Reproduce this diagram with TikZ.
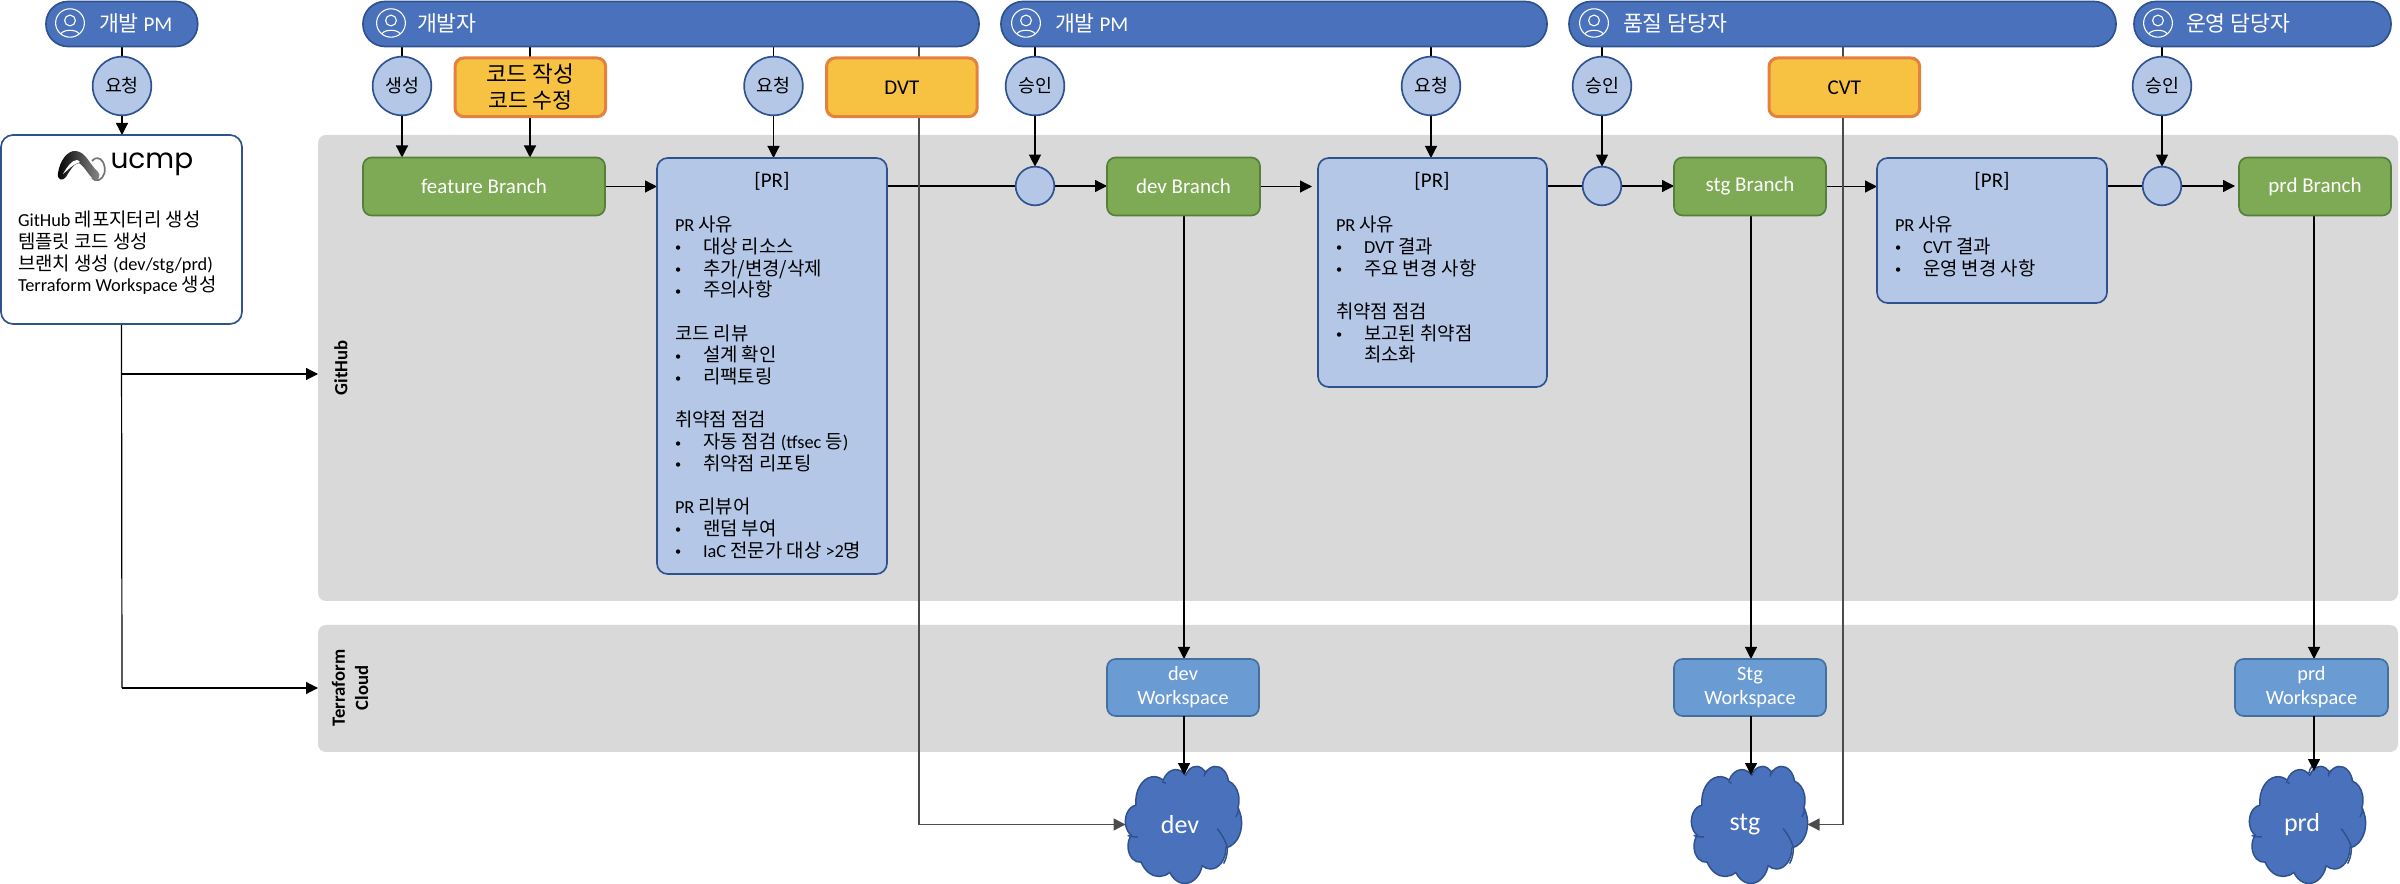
\documentclass[tikz,border=0pt]{standalone}
\usepackage{fontspec}
\setmainfont{Carlito}
\newfontfamily\krfont[Scale=1.03]{Noto Sans CJK KR}
\newfontfamily\logofont{Poppins}
\usetikzlibrary{arrows.meta,positioning,calc}
\newcommand\kr[1]{{\krfont #1}}
\newcommand\fs[2]{\fontsize{#1}{#2}\selectfont\lineskiplimit=-20pt\relax}
\newcommand\bl{\makebox[8.4pt][l]{\raisebox{.45pt}{\fontsize{3.7}{4}\selectfont\textbullet}}}
\definecolor{pillf}{HTML}{4A71BB}
\definecolor{pilld}{HTML}{2F528F}
\definecolor{lblue}{HTML}{B4C7E7}
\definecolor{grn}{HTML}{7EAA55}
\definecolor{grnd}{HTML}{557F3A}
\definecolor{orgf}{HTML}{F7C142}
\definecolor{orgd}{HTML}{E5813F}
\definecolor{wsf}{HTML}{6A9BD2}
\definecolor{wsd}{HTML}{44709F}
\definecolor{panel}{HTML}{D9D9D9}
\pgfdeclarelayer{bg}
\pgfdeclarelayer{wires}
\pgfsetlayers{bg,wires,main}
\tikzset{
  x=0.3pt,y=-0.3pt,
  every node/.style={inner sep=0pt,outer sep=0pt},
  pill/.style={draw=pilld,fill=pillf,line width=.5pt,rectangle,rounded corners=6.6pt,text=white,anchor=north west},
  act/.style={draw=pilld,fill=lblue,line width=.5pt,circle,minimum size=17.6pt,font=\fs{5.35}{6.2}},
  gate/.style={draw=pilld,fill=lblue,line width=.5pt,circle,minimum size=11.6pt},
  task/.style={draw=orgd,fill=orgf,line width=.9pt,rectangle,rounded corners=2.6pt,anchor=north west,align=center,font=\fs{6.3}{7.8}},
  branch/.style={draw=grnd,fill=grn,line width=.5pt,rectangle,rounded corners=2.6pt,anchor=north west,text=white,font=\fs{6.3}{7.4}},
  ws/.style={draw=wsd,fill=wsf,line width=.5pt,rectangle,rounded corners=2.6pt,anchor=north west,text=white,align=center,font=\fs{6.1}{7.2}},
  prbox/.style={draw=pilld,fill=lblue,line width=.5pt,rectangle,rounded corners=3.2pt,anchor=north west},
  prtitle/.style={font=\fs{6.3}{7}},
  body/.style={anchor=north west,align=left,font=\fs{5.5}{6.51}},
  panelbox/.style={fill=panel,rectangle,rounded corners=2.4pt,anchor=north west},
  wire/.style={draw=black,line width=.36pt},
  awire/.style={wire,-{Triangle[length=3.6pt,width=3.6pt]}},
  gwire/.style={draw=black!70,line width=.42pt,-{Triangle[length=3.6pt,width=3.6pt]}},
  cloudlabel/.style={text=white,font=\fs{7.8}{9}},
  cloudspot/.style={rectangle,minimum width=34.8pt,minimum height=35.1pt},
  plabel/.style={anchor=west,text=white,font=\fs{6.3}{7}},
  vlabel/.style={rotate=90,font=\bfseries\fs{5.6}{6},align=center},
}
% person icon
\newcommand\person[2]{%
  \begin{scope}[shift={(#1,#2)},white,line width=.33pt]
    \draw (0,0) ellipse [x radius=14.4,y radius=14.2];
    \draw (0,-2.5) circle [radius=5.4];
    \draw (-9,10.6) .. controls (-6,6.2) and (6,6.2) .. (9,10.6);
  \end{scope}}
% office cloud
\newcommand\ca[4]{arc[x radius=#1,y radius=#2,start angle={atan2(#1*sin(#3),#2*cos(#3))},delta angle={mod(atan2(#1*sin(#3+#4),#2*cos(#3+#4))-atan2(#1*sin(#3),#2*cos(#3))+720,360)}]}
\newcommand\officecloud[2]{%
  \begin{scope}[shift={(#1,#2)},x=0.0806pt,y=-0.0813pt,draw=pilld,line width=.45pt]
    \fill[pillf,draw=pilld] (39,143.7)
      \ca{67.53}{91.90}{-190.487}{123.781}
      \ca{53.33}{72.67}{-144.102}{89.945}
      \ca{43.65}{59.45}{-145.808}{99.723}
      \ca{48.57}{65.95}{-130.986}{117.242}
      \ca{53.33}{72.73}{-78.709}{109.027}
      \ca{67.75}{92.20}{-46.267}{130.269}
      \ca{57.85}{78.67}{0.625}{114.033}
      \ca{67.52}{92.15}{22.452}{115.173}
      \ca{77.20}{105.43}{66.243}{75.711}
      \ca{43.60}{59.18}{-274.942}{146.736}
      \ca{43.45}{59.45}{-246.829}{152.519}
      -- cycle;
    \draw (341,231) .. controls (365,260) and (378,290) .. (379,305) .. controls (379,325) and (374,345) .. (365,360);
    \draw (422,157) .. controls (420,170) and (416,180) .. (411,188);
    \draw (46,262) .. controls (32,262) and (18,260) .. (8,256);
    \draw (150,64) .. controls (146,61) and (141,59) .. (137,58);
    \draw (221,27) .. controls (222,18) and (226,9) .. (232,2);
    \draw (293,39) .. controls (294,30) and (297,22) .. (302,15);
  \end{scope}}
\begin{document}
\begin{tikzpicture}
\useasboundingbox (0,0) rectangle (2400,884);
% panels
\begin{pgfonlayer}{bg}
  \fill[white] (0,0) rectangle (2400,884);
  \node[panelbox,minimum width=624pt,minimum height=139.8pt] (ghpanel) at (318,135) {};
  \node[panelbox,minimum width=624pt,minimum height=38.1pt] (tfpanel) at (318,625) {};
\end{pgfonlayer}
\node[vlabel] (ghlabel) at (341,368) {GitHub};
\node[vlabel] (tflabel) at (350,688) {Terraform\\[1pt]Cloud};
% pills
\node[pill,minimum width=45.5pt,minimum height=13.5pt] (p1) at (46,1.5) {};
\node[pill,minimum width=184.8pt,minimum height=13.5pt] (p2) at (363,1.5) {};
\node[pill,minimum width=163.8pt,minimum height=13.5pt] (p3) at (1001,1.5) {};
\node[pill,minimum width=164.1pt,minimum height=13.5pt] (p4) at (1569,1.5) {};
\node[pill,minimum width=77.1pt,minimum height=13.5pt] (p5) at (2134,1.5) {};
\person{70}{23}\person{391}{23}\person{1026}{23}\person{1594}{23}\person{2158}{23}
\node[plabel] (p1t) at (99,23) {\kr{개발} PM};
\node[plabel] (p2t) at (417,23) {\kr{개발자}};
\node[plabel] (p3t) at (1055,23) {\kr{개발} PM};
\node[plabel] (p4t) at (1623,23) {\kr{품질 담당자}};
\node[plabel] (p5t) at (2186,23) {\kr{운영 담당자}};
% action circles
\node[act] (a1) at (122,86) {\kr{요청}};
\node[act] (a2) at (402,86) {\kr{생성}};
\node[act] (a3) at (773.5,86) {\kr{요청}};
\node[act] (a4) at (1035,86) {\kr{승인}};
\node[act] (a5) at (1431,86) {\kr{요청}};
\node[act] (a6) at (1602,86) {\kr{승인}};
\node[act] (a7) at (2162,86) {\kr{승인}};
% tasks
\node[task,minimum width=45.2pt,minimum height=17.6pt] (t1) at (455,58) {\fs{6.6}{7.8}\kr{코드 작성}\\[0pt]\kr{코드 수정}};
\node[task,minimum width=45.2pt,minimum height=17.6pt] (t2) at (826.5,58) {DVT};
\node[task,minimum width=45.2pt,minimum height=17.6pt] (t3) at (1769,58) {CVT};
% ucmp
\node[draw=pilld,fill=white,line width=.5pt,rectangle,rounded corners=3.6pt,minimum width=72.3pt,minimum height=56.7pt,anchor=north west] (ucmp) at (1,135) {};
\draw[black!55,line width=.5pt] (92,161) .. controls (95,157) and (100,157) .. (103,162) .. controls (107,170) and (104,178) .. (99,180) .. controls (96,181) and (94,180) .. (92,178);
\shade[left color=black,middle color=black,right color=black!45] (58,173) .. controls (60,160) and (68,150) .. (76,151) .. controls (86,152) and (90,165) .. (98,172) .. controls (101,175) and (99,181) .. (95,180) .. controls (90,178) and (86,168) .. (79,163) .. controls (74,163) and (69,172) .. (66,177) .. controls (63,181) and (57,181) .. (58,173) -- cycle;
\fill[white] (63,174) .. controls (67,167) and (72,160) .. (77,160) .. controls (78,160) and (79,161) .. (80,162) .. controls (73,164) and (68,170) .. (63,174) -- cycle;
\node[anchor=west,font=\logofont\fontsize{8.4}{9}\selectfont] (logo) at (110.5,164) {ucmp};
\node[body] (ucmpt) at (18,211) {\rule{0pt}{4pt}GitHub \kr{레포지터리 생성}\\\kr{템플릿 코드 생성}\\\kr{브랜치 생성} (dev/stg/prd)\\Terraform Workspace \kr{생성}};
% branches
\node[branch,minimum width=72.6pt,minimum height=17.4pt] (fb) at (363,157.5) {feature Branch};
\node[branch,minimum width=45.9pt,minimum height=17.4pt] (db) at (1107,157.5) {dev Branch};
\node[branch,minimum width=45.6pt,minimum height=17.4pt] (sb) at (1674,157.5) {stg Branch};
\node[branch,minimum width=45.6pt,minimum height=17.4pt] (pb) at (2239,157.5) {prd Branch};
% PR boxes
\node[prbox,minimum width=69pt,minimum height=124.8pt] (pr1) at (657,158) {};
\node[prbox,minimum width=68.7pt,minimum height=68.7pt] (pr2) at (1318,158) {};
\node[prbox,minimum width=69pt,minimum height=43.5pt] (pr3) at (1877,158) {};
\node[prtitle] (pr1h) at (772,181) {[PR]};
\node[prtitle] (pr2h) at (1432,181) {[PR]};
\node[prtitle] (pr3h) at (1992,181) {[PR]};
\node[body] (pr1t) at (675,216) {\rule{0pt}{4pt}PR \kr{사유}\\
\bl\kr{대상 리소스}\\
\bl\kr{추가/변경/삭제}\\
\bl\kr{주의사항}\\[6.51pt]
\kr{코드 리뷰}\\
\bl\kr{설계 확인}\\
\bl\kr{리팩토링}\\[6.51pt]
\kr{취약점 점검}\\
\bl\kr{자동 점검} (tfsec \kr{등})\\
\bl\kr{취약점 리포팅}\\[6.51pt]
PR \kr{리뷰어}\\
\bl\kr{랜덤 부여}\\
\bl IaC \kr{전문가 대상} >2\kr{명}};
\node[body] (pr2t) at (1336,216) {\rule{0pt}{4pt}PR \kr{사유}\\
\bl DVT \kr{결과}\\
\bl\kr{주요 변경 사항}\\[6.51pt]
\kr{취약점 점검}\\
\bl\kr{보고된 취약점}\\
\hspace*{8.4pt}\kr{최소화}};
\node[body] (pr3t) at (1895,216) {\rule{0pt}{4pt}PR \kr{사유}\\
\bl CVT \kr{결과}\\
\bl\kr{운영 변경 사항}};
% gates
\node[gate] (g1) at (1035,186) {};
\node[gate] (g2) at (1602,186) {};
\node[gate] (g3) at (2162,186) {};
% workspaces
\node[ws,minimum width=45.6pt,minimum height=17.1pt] (dw) at (1107,659) {dev\\Workspace};
\node[ws,minimum width=45.6pt,minimum height=17.1pt] (sw) at (1674,659) {Stg\\Workspace};
\node[ws,minimum width=45.9pt,minimum height=17.1pt] (pw) at (2235,659) {prd\\Workspace};
% clouds
\officecloud{1125.5}{766}
\officecloud{1691.5}{766}
\officecloud{2249.5}{766}
\node[cloudspot] (dc) at (1183.5,824.5) {};
\node[cloudspot] (sc) at (1749.5,824.5) {};
\node[cloudspot] (pc) at (2307.5,824.5) {};
\node[cloudlabel] (dct) at (1180,825) {dev};
\node[cloudlabel] (sct) at (1745,825) {stg};
\node[cloudlabel] (pct) at (2302,825) {prd};
% routing helpers
\coordinate (dvtx) at (919,46);
\coordinate (cvtx) at (1843,46);
\coordinate (t1x) at (530,46);
\coordinate (pdx) at (1184,0);
\coordinate (sdx) at (1751,0);
\coordinate (rdx) at (2314,0);
\coordinate (ghx) at (122,374);
\coordinate (tfx) at (122,688);
\coordinate (dtop) at (1184,775);
\coordinate (stop) at (1751,775);
\coordinate (rtop) at (2314,771);
\begin{pgfonlayer}{wires}
  \draw[wire] (p1.south -| a1) -- (a1.north);
  \draw[awire] (a1.south) -- (ucmp.north -| a1);
  \draw[wire] (p2.south -| a2) -- (a2.north);
  \draw[awire] (a2.south) -- (fb.north -| a2);
  \draw[awire] (p2.south -| t1x) -- (fb.north -| t1x);
  \draw[wire] (p2.south -| a3) -- (a3.north);
  \draw[awire] (a3.south) -- (pr1.north -| a3);
  \draw[awire] (fb.east) -- (pr1.west |- fb.east);
  \draw[wire] (pr1.east |- g1) -- (g1.west);
  \draw[awire] (g1.east) -- (db.west |- g1);
  \draw[wire] (p3.south -| a4) -- (a4.north);
  \draw[awire] (a4.south) -- (g1.north);
  \draw[awire,shorten >=1.8pt] (db.east) -- (pr2.west |- db.east);
  \draw[wire] (p3.south -| a5) -- (a5.north);
  \draw[awire] (a5.south) -- (pr2.north -| a5);
  \draw[wire] (pr2.east |- g2) -- (g2.west);
  \draw[awire] (g2.east) -- (sb.west |- g2);
  \draw[wire] (p4.south -| a6) -- (a6.north);
  \draw[awire] (a6.south) -- (g2.north);
  \draw[awire] (sb.east) -- (pr3.west |- sb.east);
  \draw[wire] (pr3.east |- g3) -- (g3.west);
  \draw[awire,shorten >=1.2pt] (g3.east) -- (pb.west |- g3);
  \draw[wire] (p5.south -| a7) -- (a7.north);
  \draw[awire] (a7.south) -- (g3.north);
  % vertical to workspaces
  \draw[awire] (db.south -| pdx) -- (dw.north -| pdx);
  \draw[awire] (sb.south -| sdx) -- (sw.north -| sdx);
  \draw[awire] (pb.south -| rdx) -- (pw.north -| rdx);
  \draw[wire] (ucmp.south) -- (tfx);
  \draw[awire] (ghx) -- (ghpanel.west |- ghx);
  \draw[awire] (tfx) -- (tfpanel.west |- tfx);
  \draw[gwire] (dvtx) |- (dc.west);
  \draw[gwire] (cvtx) |- (sc.east);
\end{pgfonlayer}
\draw[awire] (dw.south -| pdx) -- (dtop);
\draw[awire] (sw.south -| sdx) -- (stop);
\draw[awire] (pw.south -| rdx) -- (rtop);
\end{tikzpicture}
\end{document}
